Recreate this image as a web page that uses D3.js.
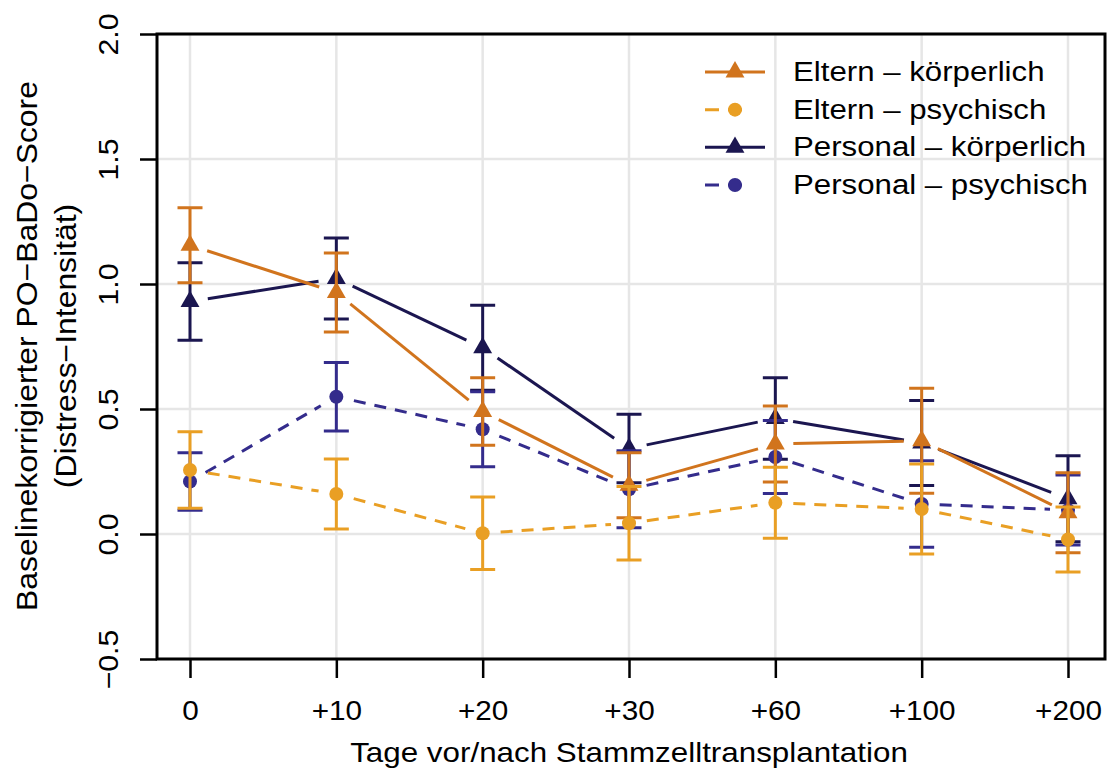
<!DOCTYPE html>
<html>
<head>
<meta charset="utf-8">
<script src="https://cdn.jsdelivr.net/npm/d3@7.9.0/dist/d3.min.js"></script>
<style>
  body { margin: 0; background: #fff; }
  text { font-family: "Liberation Sans", Arial, sans-serif; fill: #000; }
</style>
</head>
<body>
<svg width="1107" height="772"></svg>
<script>
// data
const days = ["0", "+10", "+20", "+30", "+60", "+100", "+200"];
const yTicks = [-0.5, 0, 0.5, 1.0, 1.5, 2.0];

const elternKoerper    = [1.155, 0.966, 0.490, 0.195, 0.360, 0.373, 0.085];
const elternKoerperErr = [0.150, 0.158, 0.135, 0.130, 0.152, 0.210, 0.160];
const elternPsych      = [0.256, 0.160, 0.003, 0.043, 0.125, 0.100, -0.022];
const elternPsychErr   = [0.153, 0.140, 0.145, 0.147, 0.142, 0.180, 0.130];
const personalKoerper    = [0.930, 1.022, 0.745, 0.342, 0.462, 0.364, 0.141];
const personalKoerperErr = [0.155, 0.162, 0.170, 0.137, 0.163, 0.170, 0.172];
const personalPsych      = [0.210, 0.549, 0.419, 0.179, 0.308, 0.120, 0.096];
const personalPsychErr   = [0.115, 0.137, 0.150, 0.154, 0.146, 0.173, 0.140];

const seriesNames = ["Eltern – körperlich", "Eltern – psychisch", "Personal – körperlich", "Personal – psychisch"];

// styles
const colors = ["#d1741d", "#e99f24", "#1b1650", "#342c8c"];
const dashed = [false, true, false, true];
const shape = ["tri", "dot", "tri", "dot"];

const series = [
  {name: seriesNames[0], vals: elternKoerper, err: elternKoerperErr},
  {name: seriesNames[1], vals: elternPsych, err: elternPsychErr},
  {name: seriesNames[2], vals: personalKoerper, err: personalKoerperErr},
  {name: seriesNames[3], vals: personalPsych, err: personalPsychErr}
].map((s, i) => ({...s, color: colors[i], dashed: dashed[i], shape: shape[i]}));

const box = {left: 157, right: 1105, top: 34, bottom: 659};
const svg = d3.select("svg");

const x = d3.scalePoint().domain(days).range([190, 1068]);
const y = d3.scaleLinear().domain([-0.5, 2]).range([box.bottom, box.top]);

// grid
const grid = svg.append("g").attr("stroke", "#e6e6e6").attr("stroke-width", 2.5);
grid.selectAll(".gx").data(days).join("line")
  .attr("x1", d => x(d)).attr("x2", d => x(d))
  .attr("y1", box.top).attr("y2", box.bottom);
grid.selectAll(".gy").data(yTicks).join("line")
  .attr("x1", box.left).attr("x2", box.right)
  .attr("y1", d => y(d)).attr("y2", d => y(d));

// axes
const xAxis = svg.append("g")
  .attr("transform", `translate(0,${box.bottom})`)
  .call(d3.axisBottom(x).tickSize(19).tickPadding(0));
xAxis.select(".domain").remove();
xAxis.selectAll(".tick line").attr("stroke", "#000").attr("stroke-width", 2.5);
xAxis.selectAll(".tick text")
  .attr("y", 61).attr("dy", null)
  .attr("transform", "scale(1.1,1)")
  .style("font-size", "27px");

const yAxis = svg.append("g")
  .attr("transform", `translate(${box.left},0)`)
  .call(d3.axisLeft(y).tickValues(yTicks).tickSize(17).tickFormat(d3.format(".1f")));
yAxis.select(".domain").remove();
yAxis.selectAll(".tick line").attr("stroke", "#000").attr("stroke-width", 2.5);
yAxis.selectAll(".tick text")
  .attr("x", 0).attr("y", 0).attr("dy", null)
  .attr("text-anchor", "middle")
  .attr("transform", "translate(-39,0) rotate(-90) scale(1.08,1)")
  .style("font-size", "28px");

// axis titles
svg.append("text")
  .attr("text-anchor", "middle")
  .attr("transform", "translate(629,762) scale(1.12,1)")
  .style("font-size", "28px")
  .text("Tage vor/nach Stammzelltransplantation");

svg.append("text")
  .attr("text-anchor", "middle")
  .attr("transform", "translate(37,346) rotate(-90) scale(1.1,1)")
  .style("font-size", "29px")
  .text("Baselinekorrigierter PO−BaDo−Score");
svg.append("text")
  .attr("text-anchor", "middle")
  .attr("transform", "translate(76,346) rotate(-90) scale(1.1,1)")
  .style("font-size", "29px")
  .text("(Distress−Intensität)");

// series, drawn Personal first so Eltern sits on top
const gap = 18;
const tri = d3.symbol(d3.symbolTriangle, 155);
const drawOrder = [2, 3, 0, 1];

drawOrder.forEach(i => {
  const s = series[i];
  const g = svg.append("g");
  const pts = s.vals.map((v, j) => [x(days[j]), y(v)]);

  // type "b" style: segments stop short of the points
  d3.pairs(pts).forEach(([a, b]) => {
    const dx = b[0] - a[0], dy = b[1] - a[1];
    const len = Math.hypot(dx, dy);
    if (len <= 2 * gap) return;
    const ux = dx / len, uy = dy / len;
    g.append("line")
      .attr("x1", a[0] + ux * gap).attr("y1", a[1] + uy * gap)
      .attr("x2", b[0] - ux * gap).attr("y2", b[1] - uy * gap)
      .attr("stroke", s.color).attr("stroke-width", 3)
      .attr("stroke-dasharray", s.dashed ? "12,9" : null);
  });

  // error bars
  s.vals.forEach((v, j) => {
    const cx = x(days[j]);
    const lo = y(v - s.err[j]), hi = y(v + s.err[j]);
    g.append("line").attr("x1", cx).attr("x2", cx).attr("y1", lo).attr("y2", hi)
      .attr("stroke", s.color).attr("stroke-width", 3);
    [lo, hi].forEach(yy => g.append("line")
      .attr("x1", cx - 12.5).attr("x2", cx + 12.5).attr("y1", yy).attr("y2", yy)
      .attr("stroke", s.color).attr("stroke-width", 3));
  });

  // markers
  if (s.shape === "tri") {
    g.selectAll("path.m").data(pts).join("path")
      .attr("d", tri).attr("transform", d => `translate(${d[0]},${d[1]})`)
      .attr("fill", s.color);
  } else {
    g.selectAll("circle").data(pts).join("circle")
      .attr("cx", d => d[0]).attr("cy", d => d[1]).attr("r", 7)
      .attr("fill", s.color);
  }
});

// box
svg.append("rect")
  .attr("x", box.left).attr("y", box.top)
  .attr("width", box.right - box.left).attr("height", box.bottom - box.top)
  .attr("fill", "none").attr("stroke", "#000").attr("stroke-width", 3);

// legend
const legend = svg.append("g");
const rowY = d3.scalePoint().domain(seriesNames).range([72, 185]);
series.forEach(s => {
  const ly = rowY(s.name);
  legend.append("line")
    .attr("x1", 705).attr("x2", s.dashed ? 745 : 765).attr("y1", ly).attr("y2", ly)
    .attr("stroke", s.color).attr("stroke-width", 3)
    .attr("stroke-dasharray", s.dashed ? "14,9" : null);
  if (s.shape === "tri") {
    legend.append("path").attr("d", tri).attr("transform", `translate(735,${ly})`).attr("fill", s.color);
  } else {
    legend.append("circle").attr("cx", 735).attr("cy", ly).attr("r", 7).attr("fill", s.color);
  }
  legend.append("text")
    .attr("transform", `translate(793,${ly + 9}) scale(1.115,1)`)
    .style("font-size", "28px")
    .text(s.name);
});
</script>
</body>
</html>
